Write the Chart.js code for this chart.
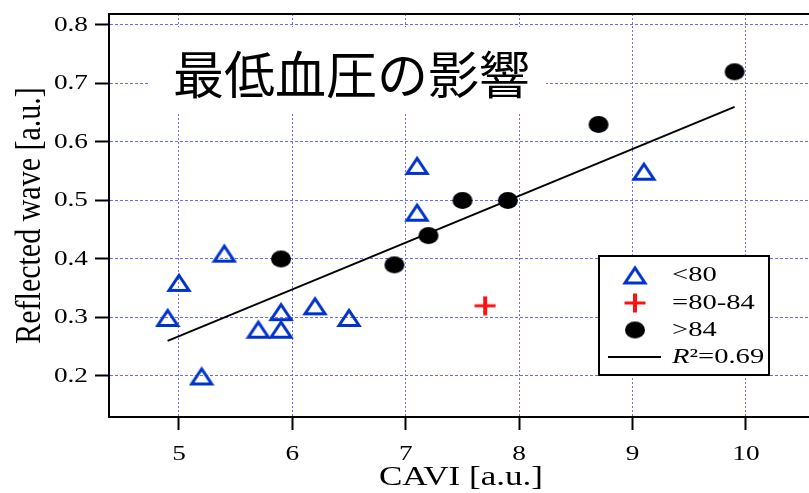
<!DOCTYPE html>
<html>
<head>
<meta charset="utf-8">
<script src="https://cdn.jsdelivr.net/npm/chart.js@4/dist/chart.umd.min.js"></script>
<style>
  html, body { margin: 0; padding: 0; background: #fff; }
  #chart { display: block; }
</style>
</head>
<body>
<canvas id="chart" width="809" height="493"></canvas>
<script>
// CAVI vs reflected wave, split by diastolic pressure group
const under80X = [4.9, 5.0, 5.4, 5.2, 5.7, 5.9, 5.9, 6.2, 6.5, 7.1, 7.1, 9.1];
const under80Y = [0.30, 0.36, 0.41, 0.20, 0.28, 0.28, 0.31, 0.32, 0.30, 0.56, 0.48, 0.55];
const midX = [7.7];
const midY = [0.32];
const over84X = [5.9, 6.9, 7.2, 7.5, 7.9, 8.7, 9.9];
const over84Y = [0.40, 0.39, 0.44, 0.50, 0.50, 0.63, 0.72];
const fitX = [4.9, 9.9];
const fitY = [0.26, 0.66];

const xTicks = [5, 6, 7, 8, 9, 10];
const xTickLabels = ['5', '6', '7', '8', '9', '10'];
const yTicks = [0.2, 0.3, 0.4, 0.5, 0.6, 0.7, 0.8];
const yTickLabels = ['0.2', '0.3', '0.4', '0.5', '0.6', '0.7', '0.8'];
const legendLabels = ['<80', '=80-84', '>84'];

const toPoints = (xs, ys) => xs.map((x, i) => ({ x: x, y: ys[i] }));

const SERIF = '"Liberation Serif", "Times New Roman", serif';
const STRETCH = 1.3;
const GRID = '#6b6bff';

// marker images
function makeTriangle() {
    const c = document.createElement('canvas');
    c.width = 26; c.height = 21;
    const g = c.getContext('2d');
    g.strokeStyle = '#0033cc';
    g.lineWidth = 3;
    g.lineJoin = 'miter';
    g.beginPath();
    g.moveTo(3, 18.5);
    g.lineTo(23, 18.5);
    g.lineTo(13, 3.5);
    g.closePath();
    g.stroke();
    return c;
}
function makeDot() {
    const c = document.createElement('canvas');
    c.width = 22; c.height = 19;
    const g = c.getContext('2d');
    g.fillStyle = '#000';
    g.beginPath();
    g.ellipse(11, 9.5, 10, 8.5, 0, 0, Math.PI * 2);
    g.fill();
    return c;
}
function makePlus() {
    const c = document.createElement('canvas');
    c.width = 22; c.height = 20;
    const g = c.getContext('2d');
    g.fillStyle = '#ff1010';
    g.fillRect(0.5, 8.5, 21, 3);
    g.fillRect(9, 0.5, 4, 19);
    return c;
}
const triImg = makeTriangle();
const dotImg = makeDot();
const plusImg = makePlus();

function stretchText(ctx, text, x, y, align) {
    ctx.save();
    ctx.translate(x, y);
    ctx.scale(STRETCH, 1);
    ctx.textAlign = align;
    ctx.fillText(text, 0, 0);
    ctx.restore();
}

const decorations = {
    id: 'decorations',
    beforeDatasetsDraw(chart) {
        const ctx = chart.ctx;
        // title over a white patch
        ctx.save();
        ctx.fillStyle = '#fff';
        ctx.fillRect(150, 27, 396, 86);
        ctx.fillStyle = '#000';
        ctx.font = '51px "Noto Sans CJK JP", sans-serif';
        ctx.textBaseline = 'middle';
        ctx.textAlign = 'left';
        ctx.fillText('最低血圧の影響', 173, 75);
        ctx.restore();
    },
    afterDraw(chart) {
        const ctx = chart.ctx;
        const area = chart.chartArea;
        const xs = chart.scales.x;
        const ys = chart.scales.y;
        ctx.save();

        // top frame line
        ctx.strokeStyle = '#000';
        ctx.lineWidth = 2;
        ctx.beginPath();
        ctx.moveTo(area.left - 1, area.top);
        ctx.lineTo(area.right, area.top);
        ctx.stroke();

        // tick labels
        ctx.fillStyle = '#000';
        ctx.font = '21px ' + SERIF;
        ctx.textBaseline = 'middle';
        yTicks.forEach((v, i) => stretchText(ctx, yTickLabels[i], 88, ys.getPixelForValue(v), 'right'));
        ctx.textBaseline = 'alphabetic';
        xTicks.forEach((v, i) => stretchText(ctx, xTickLabels[i], xs.getPixelForValue(v), 460, 'center'));

        // axis titles
        ctx.font = '27px ' + SERIF;
        stretchText(ctx, 'CAVI [a.u.]', (area.left + area.right) / 2 + 2, 485, 'center');
        ctx.save();
        ctx.translate(30, (area.top + area.bottom) / 2);
        ctx.scale(1.22, 1);
        ctx.rotate(-Math.PI / 2);
        ctx.font = '30px ' + SERIF;
        ctx.textAlign = 'center';
        ctx.textBaseline = 'middle';
        ctx.fillText('Reflected wave [a.u.]', 0, 0);
        ctx.restore();

        // legend
        const lx = 599, ly = 256, lw = 170, lh = 119;
        ctx.fillStyle = '#fff';
        ctx.fillRect(lx, ly, lw, lh);
        ctx.strokeStyle = '#000';
        ctx.lineWidth = 2;
        ctx.strokeRect(lx, ly, lw, lh);
        const rows = [275, 303, 330, 357];
        const imgs = [triImg, plusImg, dotImg];
        imgs.forEach((img, i) => {
            ctx.drawImage(img, 635 - img.width / 2, rows[i] - img.height / 2);
        });
        ctx.beginPath();
        ctx.moveTo(608, rows[3]);
        ctx.lineTo(661, rows[3]);
        ctx.stroke();

        ctx.fillStyle = '#000';
        ctx.font = '22px ' + SERIF;
        ctx.textBaseline = 'middle';
        legendLabels.forEach((t, i) => stretchText(ctx, t, 672, rows[i], 'left'));
        ctx.font = 'italic 22px ' + SERIF;
        stretchText(ctx, 'R', 672, rows[3], 'left');
        const rw = ctx.measureText('R').width * STRETCH;
        ctx.font = '22px ' + SERIF;
        stretchText(ctx, '²=0.69', 672 + rw, rows[3], 'left');

        ctx.restore();
    }
};

new Chart(document.getElementById('chart').getContext('2d'), {
    type: 'scatter',
    data: {
        datasets: [
            { label: legendLabels[0], data: toPoints(under80X, under80Y), pointStyle: triImg },
            { label: legendLabels[1], data: toPoints(midX, midY), pointStyle: plusImg },
            { label: legendLabels[2], data: toPoints(over84X, over84Y), pointStyle: dotImg },
            {
                label: 'R²=0.69',
                data: toPoints(fitX, fitY),
                showLine: true,
                borderColor: '#000',
                borderWidth: 2,
                pointRadius: 0
            }
        ]
    },
    options: {
        responsive: false,
        animation: false,
        devicePixelRatio: 1,
        layout: { autoPadding: false, padding: { top: 14, right: 0, left: 0, bottom: 0 } },
        plugins: {
            legend: { display: false },
            tooltip: { enabled: false }
        },
        scales: {
            x: {
                type: 'linear',
                min: 4.383,
                max: 10.556,
                afterBuildTicks: scale => { scale.ticks = xTicks.map(v => ({ value: v })); },
                afterFit: scale => { scale.height = 76; scale.paddingLeft = 0; scale.paddingRight = 0; },
                ticks: { display: false },
                grid: {
                    color: GRID,
                    lineWidth: 1,
                    tickLength: 13,
                    tickColor: '#000',
                    tickWidth: 2
                },
                border: { color: '#000', width: 2, dash: [2, 2] }
            },
            y: {
                type: 'linear',
                min: 0.1299,
                max: 0.8188,
                afterBuildTicks: scale => { scale.ticks = yTicks.map(v => ({ value: v })); },
                afterFit: scale => { scale.width = 109; scale.paddingTop = 0; scale.paddingBottom = 0; },
                ticks: { display: false },
                grid: {
                    color: GRID,
                    lineWidth: 1,
                    tickLength: 14,
                    tickColor: '#000',
                    tickWidth: 2
                },
                border: { color: '#000', width: 2, dash: [3, 2] }
            }
        }
    },
    plugins: [decorations]
});
</script>
</body>
</html>
